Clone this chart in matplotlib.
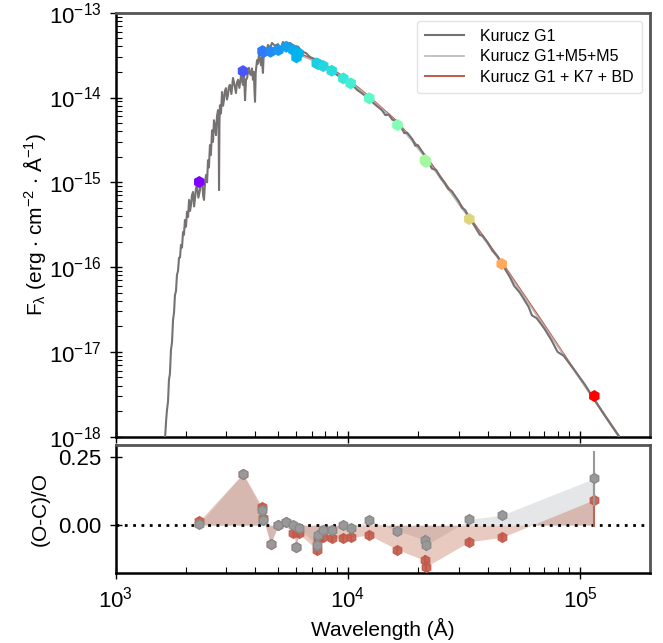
import numpy as np
import matplotlib
matplotlib.use('Agg')
import matplotlib.pyplot as plt
from matplotlib.colors import LogNorm

plt.rcParams['font.family'] = ['Liberation Sans', 'DejaVu Sans']
plt.rcParams['mathtext.fontset'] = 'custom'
plt.rcParams['mathtext.rm'] = 'Liberation Sans'
plt.rcParams['mathtext.it'] = 'Liberation Sans:italic'
plt.rcParams['mathtext.default'] = 'regular'

# Kurucz G1 spectrum (Angstrom, erg/s/cm2/A)
g1_wave = [1620, 1650, 1663, 1680, 1696, 1712, 1730, 1748, 1766, 1783, 1800, 1818,
           1836, 1855, 1874, 1892, 1910, 1930, 1950, 1968, 1987, 2008, 2028, 2050,
           2070, 2090, 2110, 2130, 2153, 2175, 2196, 2218, 2240, 2270, 2307, 2330,
           2355, 2380, 2400, 2425, 2450, 2475, 2497, 2520, 2547, 2570, 2600, 2625,
           2650, 2675, 2704, 2730, 2758, 2775, 2786, 2798, 2812, 2840, 2871, 2900,
           2925, 2955, 2985, 3015, 3045, 3075, 3105, 3150, 3200, 3250, 3296, 3330,
           3365, 3410, 3467, 3500, 3532, 3570, 3606, 3640, 3680, 3715, 3750, 3790,
           3828, 3865, 3900, 3935, 3960, 3981, 4010, 4061, 4100, 4140, 4180, 4226,
           4260, 4306, 4340, 4395, 4460, 4529, 4620, 4710, 4853, 5000, 5100, 5250,
           5410, 5632, 5861, 6100, 6345, 6600, 6870, 7213, 7580, 8050, 8545, 9250,
           10000, 10500, 11000, 11500, 12000, 12500, 13000, 13500, 14000, 14500,
           15000, 15500, 16000, 16500, 17000, 17500, 18000, 18500, 19000, 19500,
           20000, 21000, 22000, 23000, 24000, 25000, 26000, 27000, 28000, 30000,
           31000, 32000, 33330, 35000, 37000, 38000, 40000, 42000, 44000, 46000,
           50000, 52000, 55000, 60000, 62000, 65000, 70000, 75000, 80000, 85000,
           95000, 105000, 115000, 130000, 150000, 160000]
g1_flux = [7e-19, 1.6e-18, 2.07e-18, 2.6e-18, 4.7e-18, 5.5e-18, 1.05e-17, 1.3e-17,
           2.4e-17, 2.9e-17, 4.7e-17, 5.2e-17, 8.1e-17, 9.0e-17, 1.29e-16, 1.3e-16,
           1.83e-16, 1.7e-16, 2.6e-16, 2.4e-16, 3.6e-16, 3.0e-16, 4.5e-16, 3.9e-16,
           6.2e-16, 4.6e-16, 5.4e-16, 7.0e-16, 7.7e-16, 5.2e-16, 6.5e-16, 8.5e-16,
           9.3e-16, 6.6e-16, 8.1e-16, 1.1e-15, 1.06e-15, 7.0e-16, 6.2e-16, 1.0e-15,
           1.22e-15, 1.0e-15, 1.82e-15, 1.5e-15, 2.75e-15, 2.1e-15, 4.1e-15, 3.0e-15,
           5.4e-15, 4.6e-15, 3.6e-15, 6.0e-15, 7.1e-15, 5.5e-15, 8.1e-16, 5.0e-15,
           8.1e-15, 6.5e-15, 1.16e-14, 8.0e-15, 9.3e-15, 1.2e-14, 1.29e-14, 9.5e-15,
           1.07e-14, 1.35e-14, 1.41e-14, 1.1e-14, 1.7e-14, 1.4e-14, 1.13e-14, 1.5e-14,
           1.62e-14, 1.3e-14, 1.84e-14, 1.6e-14, 1.41e-14, 1.9e-14, 9.3e-15, 1.6e-14,
           1.7e-14, 2.0e-14, 2.24e-14, 1.9e-14, 1.84e-14, 2.2e-14, 1.62e-14, 2.0e-14,
           1.2e-14, 8.9e-15, 2.0e-14, 2.76e-14, 2.5e-14, 3.16e-14, 2.9e-14, 2.4e-14,
           3.0e-14, 1.95e-14, 3.2e-14, 3.63e-14, 3.4e-14, 4.17e-14, 3.84e-14, 4.4e-14,
           4.07e-14, 4.27e-14, 3.47e-14, 4.52e-14, 4.17e-14, 4.4e-14, 4.07e-14, 3.98e-14,
           3.47e-14, 3.35e-14, 3.0e-14, 2.84e-14, 2.55e-14, 2.29e-14, 2.04e-14, 1.74e-14,
           1.5e-14, 1.38e-14, 1.22e-14, 1.12e-14, 1.02e-14, 9.4e-15, 8.4e-15, 7.7e-15,
           7.1e-15, 6.2e-15, 6.3e-15, 5.5e-15, 5.3e-15, 4.8e-15, 4.4e-15, 3.8e-15,
           3.85e-15, 3.5e-15, 3.2e-15, 2.7e-15, 2.75e-15, 2.25e-15, 1.85e-15, 1.45e-15,
           1.4e-15, 1.15e-15, 1.0e-15, 8.4e-16, 7.9e-16, 6.0e-16, 5.0e-16, 4.7e-16,
           3.8e-16, 3.1e-16, 2.4e-16, 2.35e-16, 1.95e-16, 1.55e-16, 1.35e-16, 1.1e-16,
           7.5e-17, 6.0e-17, 5.0e-17, 3.4e-17, 2.7e-17, 2.5e-17, 1.9e-17, 1.4e-17,
           1.0e-17, 9.0e-18, 6.0e-18, 4.1e-18, 2.75e-18, 1.65e-18, 9.3e-19, 7.2e-19]

# composite models (smooth continuum, only the red/IR part shows)
m5_wave = [6000, 7400, 8516, 10280, 12360, 16350, 21600, 33330, 45970, 67000, 115140, 150000, 200000]
m5_flux = [3.3e-14, 2.6e-14, 2.1e-14, 1.5e-14, 1.0e-14, 5.0e-15, 1.95e-15, 3.75e-16, 1.1e-16,
           2.4e-17, 2.7e-18, 9.2e-19, 2.85e-19]
bd_wave = [6000, 7400, 8516, 9555, 10280, 12360, 14000, 16350, 19000, 21600, 26000, 33330,
           45970, 67000, 90000, 115140, 150000, 200000]
bd_flux = [3.4e-14, 2.7e-14, 2.17e-14, 1.76e-14, 1.54e-14, 1.02e-14, 7.5e-15, 5.15e-15, 3.13e-15,
           2.05e-15, 1.01e-15, 3.9e-16, 1.14e-16, 2.5e-17, 7.45e-18, 2.74e-18, 9.4e-19, 2.93e-19]

# photometry
phot_wave = [2290, 3533, 4287, 4330, 4642, 5016, 5430, 5820, 6006, 6128, 7339, 7457, 7834,
             8516, 9555, 10280, 12360, 16350, 21480, 21700, 33330, 45970, 115140]
phot_flux = [1.01e-15, 2.05e-14, 3.53e-14, 3.44e-14, 3.47e-14, 3.63e-14, 3.97e-14, 3.63e-14,
             2.98e-14, 3.32e-14, 2.53e-14, 2.48e-14, 2.35e-14, 2.07e-14, 1.68e-14, 1.47e-14,
             9.8e-15, 4.74e-15, 1.83e-15, 1.74e-15, 3.69e-16, 1.09e-16, 3.02e-18]

# (O-C)/O residuals
res_m5 = [0.005, 0.19, 0.055, 0.018, -0.07, 0.0, 0.012, 0.0, -0.08, -0.01, -0.074, -0.037,
          -0.018, -0.018, 0.0, -0.01, 0.018, -0.02, -0.055, -0.074, 0.021, 0.037, 0.172]
res_bd = [0.015, 0.19, 0.065, 0.025, -0.07, 0.0, 0.01, -0.03, -0.08, -0.03, -0.09, -0.05,
          -0.043, -0.048, -0.048, -0.045, -0.037, -0.09, -0.13, -0.153, -0.061, -0.045, 0.094]
res_err = [0.015, 0.015, 0.015, 0.015, 0.015, 0.012, 0.012, 0.012, 0.012, 0.012, 0.02, 0.02,
           0.015, 0.015, 0.015, 0.015, 0.015, 0.015, 0.02, 0.02, 0.015, 0.015, 0.1]

c_g1 = '#767272'
c_m5 = '#b8b8b8'
c_bd = '#c25a4a'

fig = plt.figure(figsize=(6.63, 6.43), dpi=100)
ax1 = fig.add_axes([0.1745, 0.3208, 0.8059, 0.6594])
ax2 = fig.add_axes([0.1745, 0.1089, 0.8059, 0.1986], sharex=ax1)

ax1.plot(bd_wave, bd_flux, color=c_bd, lw=1.4, zorder=2, label='Kurucz G1 + K7 + BD')
ax1.plot(m5_wave, m5_flux, color=c_m5, lw=1.2, zorder=3, label='Kurucz G1+M5+M5')
ax1.plot(g1_wave, g1_flux, color=c_g1, lw=1.5, zorder=4, label='Kurucz G1')
ax1.scatter(phot_wave, phot_flux, c=phot_wave, cmap='rainbow',
            norm=LogNorm(vmin=min(phot_wave), vmax=max(phot_wave)),
            marker='h', s=75, lw=0, zorder=5)

ax1.set_xscale('log')
ax1.set_yscale('log')
ax1.set_xlim(1e3, 2e5)
ax1.set_ylim(1e-18, 1e-13)
ax1.set_ylabel(r'F$_\lambda$ (erg $\cdot$ cm$^{-2}$ $\cdot$ Å$^{-1}$)', fontsize=15)
ax1.yaxis.set_label_coords(-0.127, 0.5)
h, l = ax1.get_legend_handles_labels()
leg = ax1.legend(h[::-1], l[::-1], loc='upper right', fontsize=11.5, frameon=True,
                 fancybox=True, edgecolor='#dddddd', borderpad=0.5, handlelength=2.5,
                 handletextpad=1.0, labelspacing=0.35)
plt.setp(ax1.get_xticklabels(), visible=False)

# residual panel
ax2.fill_between(phot_wave, 0, res_m5, color='#b5b9be', alpha=0.35, lw=0)
ax2.fill_between(phot_wave, 0, res_bd, color='#b5502f', alpha=0.3, lw=0)
ax2.axhline(0, color='k', ls=(0, (1, 2)), lw=2, zorder=1)
ax2.errorbar(phot_wave, res_bd, yerr=res_err, fmt='h', color=c_bd, ms=7,
             elinewidth=1.5, capsize=0, alpha=0.9, zorder=3)
ax2.errorbar(phot_wave, res_m5, yerr=res_err, fmt='h', color='#999999', mec='#8a8a8a',
             ms=7, elinewidth=1.5, capsize=0, zorder=4)
ax2.set_ylim(-0.176, 0.294)
ax2.set_yticks([0.0, 0.25])
ax2.set_yticklabels(['0.00', '0.25'])
ax2.set_xlabel('Wavelength (Å)', fontsize=15)
ax2.set_ylabel('(O-C)/O', fontsize=15)
ax2.yaxis.set_label_coords(-0.124, 0.5)

for ax in (ax1, ax2):
    ax.tick_params(which='major', direction='inout', length=8, width=1, labelsize=16, pad=6)
    ax.tick_params(which='minor', direction='in', length=4, width=0.8)
    for side in ('left', 'bottom'):
        ax.spines[side].set_color('k')
        ax.spines[side].set_linewidth(1.8)
    for side in ('top', 'right'):
        ax.spines[side].set_color('#555555')
        ax.spines[side].set_linewidth(2)

fig.savefig('out.png', dpi=100)
